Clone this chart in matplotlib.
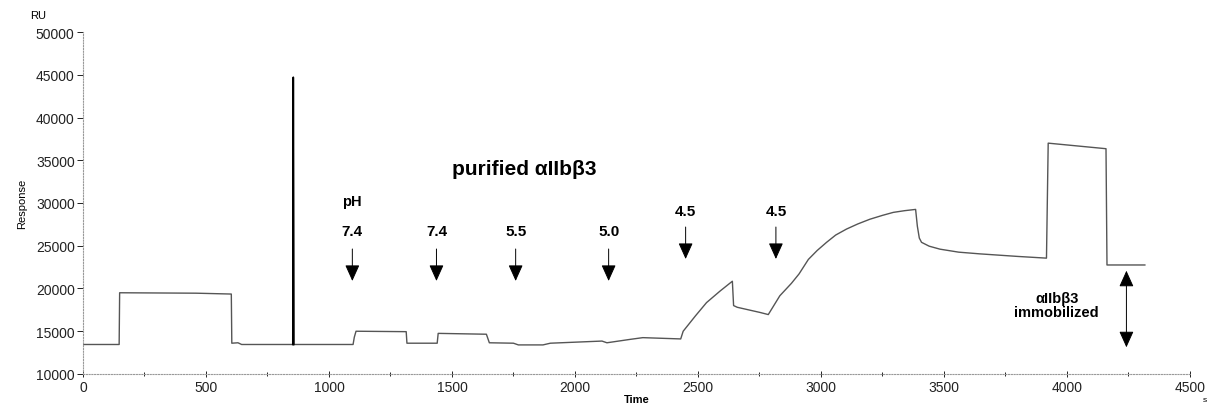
import matplotlib
matplotlib.use("Agg")
import matplotlib.pyplot as plt
from matplotlib.ticker import MultipleLocator

plt.rcParams['font.family'] = ['Liberation Sans', 'DejaVu Sans']

# sensorgram trace (time in s, response in RU)
time = [0, 147, 149, 460, 603, 605, 630, 645, 853, 855, 857, 1098, 1103, 1110,
        1314, 1317, 1440, 1444, 1640, 1652, 1750, 1770, 1870, 1900, 2110, 2130,
        2225, 2276, 2430, 2440, 2490, 2535, 2590, 2640, 2645, 2660, 2752, 2786,
        2833, 2880, 2911, 2949, 2985, 3023, 3060, 3104, 3150, 3199, 3250, 3294,
        3340, 3385, 3392, 3400, 3409, 3440, 3484, 3560, 3646, 3800, 3917, 3924,
        4159, 4163, 4317]
response = [13450, 13450, 19500, 19450, 19350, 13600, 13650, 13450, 13450, 44700,
            13450, 13450, 14300, 15000, 14950, 13600, 13600, 14750, 14650, 13650,
            13600, 13400, 13400, 13600, 13850, 13650, 14050, 14250, 14100, 15000,
            16800, 18350, 19700, 20850, 18000, 17800, 17200, 16950, 19150, 20600,
            21700, 23400, 24450, 25400, 26250, 26950, 27550, 28100, 28550, 28900,
            29100, 29250, 27300, 25900, 25400, 24950, 24600, 24250, 24050, 23750,
            23550, 37000, 36350, 22750, 22750]

# pH injection markers
ph_labels = ['7.4', '7.4', '5.5', '5.0', '4.5', '4.5']
ph_x = [1095, 1437, 1759, 2137, 2450, 2817]
ph_tail = [24620, 24620, 24620, 24620, 27190, 27190]
ph_tip = [20880, 20880, 20880, 20880, 23450, 23450]
ph_text_y = [26780, 26780, 26780, 26780, 29060, 29060]

fig = plt.figure(figsize=(12.08, 4.06), dpi=100)
ax = fig.add_axes([0.0687, 0.0764, 0.9163, 0.8423])

ax.plot(time, response, color='#555555', lw=1.0)
# injection spike drawn darker
spike = slice(8, 11)
ax.plot(time[spike], response[spike], color='black', lw=1.2)

ax.set_xlim(0, 4500)
ax.set_ylim(10000, 50000)
ax.xaxis.set_major_locator(MultipleLocator(500))
ax.xaxis.set_minor_locator(MultipleLocator(250))
ax.yaxis.set_major_locator(MultipleLocator(5000))

for s in ['top', 'right']:
    ax.spines[s].set_visible(False)
for s in ['left', 'bottom']:
    ax.spines[s].set_color('#999999')
    ax.spines[s].set_linestyle((0, (1, 1.5)))
    ax.spines[s].set_linewidth(0.8)

ax.tick_params(axis='both', labelsize=10, colors='#222222', width=0.7)
ax.tick_params(axis='x', direction='inout', length=5, pad=2)
ax.tick_params(axis='x', which='minor', direction='inout', length=3, width=0.6)
ax.tick_params(axis='y', direction='out', length=4, pad=2)

ax.set_xlabel('Time', fontsize=8, fontweight='bold', labelpad=0)
ax.set_ylabel('Response', fontsize=8, labelpad=6)
fig.text(30 / 1208, 1 - 16 / 406, 'RU', fontsize=8, va='center')
fig.text(1205 / 1208, 1 - 401 / 406, 's', fontsize=6, va='center', ha='center')

ax.text(1793, 33980, 'purified \u03b1IIb\u03b23', fontsize=15, fontweight='bold',
        ha='center', va='center')
ax.text(1095, 30230, 'pH', fontsize=10.5, fontweight='bold', ha='center', va='center')

for lab, x, y0, y1, yt in zip(ph_labels, ph_x, ph_tail, ph_tip, ph_text_y):
    ax.annotate('', xy=(x, y1), xytext=(x, y0),
                arrowprops=dict(arrowstyle='-|>,head_length=1.0,head_width=0.45',
                                color='black', lw=0.7, mutation_scale=10,
                                shrinkA=0, shrinkB=0))
    ax.text(x, yt, lab, fontsize=11, fontweight='bold', ha='center', va='center')

ax.annotate('', xy=(4242, 22080), xytext=(4242, 13120),
            arrowprops=dict(arrowstyle='<|-|>,head_length=1.0,head_width=0.45',
                            color='black', lw=0.7, mutation_scale=10,
                            shrinkA=0, shrinkB=0))
ax.text(3959, 18030, '\u03b1IIb\u03b23\nimmobilized', fontsize=10.5, fontweight='bold',
        ha='center', va='center', linespacing=1.0)

fig.savefig('out.png', dpi=100)
